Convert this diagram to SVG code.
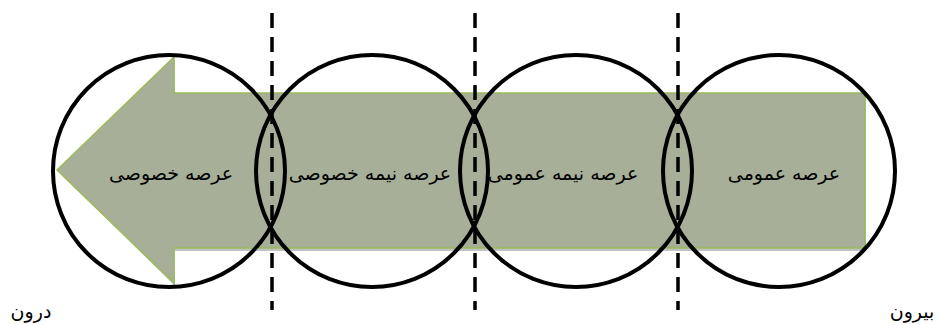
<svg xmlns="http://www.w3.org/2000/svg" width="943" height="325" viewBox="0 0 943 325">
<style>
.lbl{font-family:"DejaVu Sans","Noto Sans",sans-serif;font-size:19px;fill:#000;text-anchor:middle}
.circ{fill:none;stroke:#000;stroke-width:4}
.dash{stroke:#000;stroke-width:3.5;stroke-dasharray:15 9}
</style>
<rect width="943" height="325" fill="#fff"/>
<g id="arrow">
<path d="M60,173 L175,60 L175,96 L866,96 L866,251 L175,251 L175,286 Z" fill="#999" opacity="0.6"/>
<path d="M57,170 L174,57 L174,93 L865,93 L865,248 L174,248 L174,283 Z" fill="#a7af99" stroke="#9bbb59" stroke-width="1.5"/>
</g>
<g id="circles">
<circle id="c1" class="circ" cx="169" cy="171" r="116"/>
<circle id="c2" class="circ" cx="372" cy="171" r="116"/>
<circle id="c3" class="circ" cx="576" cy="171" r="116"/>
<circle id="c4" class="circ" cx="779" cy="171" r="116"/>
</g>
<g id="connectors">
<line class="dash" x1="272" y1="13" x2="272" y2="310"/>
<line class="dash" x1="475" y1="13" x2="475" y2="310"/>
<line class="dash" x1="678" y1="13" x2="678" y2="310"/>
</g>
<g id="labels">
<text class="lbl" x="171" y="180">عرصه خصوصی</text>
<text class="lbl" x="370" y="180">عرصه نیمه خصوصی</text>
<text class="lbl" x="563" y="180">عرصه نیمه عمومی</text>
<text class="lbl" x="784" y="180">عرصه عمومی</text>
<text class="lbl" x="31" y="318">درون</text>
<text class="lbl" x="912" y="318">بیرون</text>
</g>
</svg>
